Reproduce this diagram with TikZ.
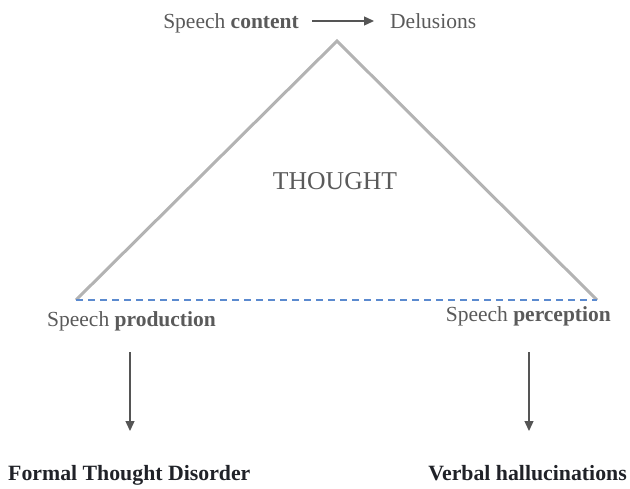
\documentclass[tikz,border=0pt]{standalone}
\usepackage{fontspec}
\setmainfont{Liberation Serif}
\usetikzlibrary{arrows.meta}
\definecolor{txt}{HTML}{5A5A5A}
\definecolor{restxt}{HTML}{202228}
\definecolor{trigray}{HTML}{B3B3B3}
\definecolor{dashblue}{HTML}{5B8ACF}
\definecolor{arrgray}{HTML}{555555}
\begin{document}
\begin{tikzpicture}[x=1pt,y=-1pt,
  lbl/.style={inner sep=0pt,text=txt,font=\fontsize{21.5}{24}\selectfont},
  res/.style={inner sep=0pt,text=restxt,font=\fontsize{21.8}{24}\selectfont\bfseries},
  arrowline/.style={draw=arrgray,line width=1.3pt,-{Triangle[length=10pt,width=9pt]}}]
\useasboundingbox (0,0) rectangle (630,488);
\coordinate (apex) at (337,41);
\coordinate (bl) at (76,300);
\coordinate (br) at (597,300);
\draw[trigray,line width=3pt,line join=miter] (bl) -- (apex) -- (br);
\draw[dashblue,line width=1.3pt,dash pattern=on 7pt off 5pt] (bl) -- (br);
\node[lbl,anchor=base east] (content) at (299,28) {Speech \textbf{content}};
\node[lbl,anchor=base west] (delus) at (390,28) {Delusions};
\coordinate (ca) at (312,21);
\coordinate (cb) at (374,21);
\draw[arrowline] (ca) -- (cb);
\node[inner sep=0pt,text=txt,font=\fontsize{25.7}{28}\selectfont] (thought) at (335,181) {THOUGHT};
\node[lbl,anchor=base west] (prod) at (47,326) {Speech \textbf{production}};
\node[lbl,anchor=base east] (perc) at (611,321) {Speech \textbf{perception}};
\coordinate (p1) at (130,352);
\coordinate (p2) at (130,431);
\coordinate (q1) at (529,352);
\coordinate (q2) at (529,431);
\draw[arrowline] (p1) -- (p2);
\draw[arrowline] (q1) -- (q2);
\node[res,anchor=base west] (ftd) at (8,480) {Formal Thought Disorder};
\node[res,anchor=base east] (vh) at (627,480) {Verbal hallucinations};
\end{tikzpicture}
\end{document}
